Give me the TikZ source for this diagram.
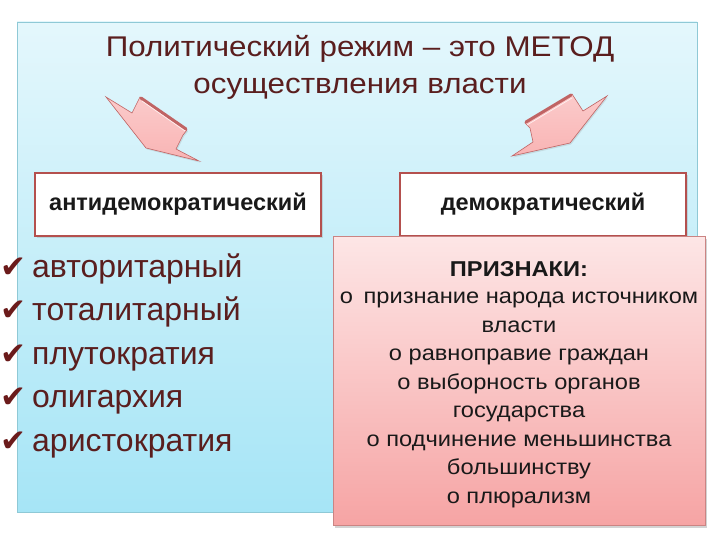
\documentclass[tikz,border=0pt]{standalone}
\usepackage{fontspec}
\setmainfont{Liberation Sans}
\newfontfamily\widesans[FakeStretch=1.1]{Liberation Sans}
\newfontfamily\checkfont{DejaVu Sans}
\usetikzlibrary{shadows}
\definecolor{bgtop}{HTML}{E4F7FC}
\definecolor{bgbot}{HTML}{A6E5F6}
\definecolor{bgline}{HTML}{8FC9D6}
\definecolor{maroon}{HTML}{5A1E1E}
\definecolor{boxline}{HTML}{B4504E}
\definecolor{pinktop}{HTML}{FDE6E6}
\definecolor{pinkbot}{HTML}{F6A4A4}
\definecolor{arrowfill}{HTML}{F9B4B4}
\definecolor{arrowline}{HTML}{C06464}

\tikzset{
  titleline/.style={font=\widesans\fontsize{28.5}{34}\selectfont, text=maroon, anchor=base, inner sep=0pt},
  kindbox/.style={draw=boxline, line width=1.6pt, fill=white, minimum width=286pt, minimum height=63pt,
    font=\fontsize{23.5}{27}\selectfont\bfseries, text=black!90, drop shadow={opacity=0.25, shadow xshift=2pt, shadow yshift=-2pt}},
  item/.style={font=\fontsize{32}{36}\selectfont, text=maroon, anchor=base west, inner sep=0pt},
  tick/.style={font=\checkfont\fontsize{31}{34}\selectfont, text=maroon!90!red, anchor=base west, inner sep=0pt},
  signbox/.style={draw=boxline!70, line width=0.8pt, top color=pinktop, bottom color=pinkbot,
    minimum width=372pt, minimum height=289pt, drop shadow={opacity=0.35, shadow xshift=2pt, shadow yshift=-3pt}},
  signline/.style={font=\widesans\fontsize{21.5}{25}\selectfont, text=black!90, anchor=base, inner sep=0pt},
  arrowshape/.style={draw=arrowline, line width=0.6pt, top color=arrowfill!70!white, bottom color=arrowfill,
    drop shadow={opacity=0.2, shadow xshift=1pt, shadow yshift=-1.5pt}},
  arrowback/.style={draw=arrowline, line width=3pt, line cap=round}
}

\begin{document}
\begin{tikzpicture}[x=1pt, y=-1pt]
  \useasboundingbox (0,0) rectangle (720,540);
  % background panel
  \shade[top color=bgtop, bottom color=bgbot, draw=bgline, line width=0.6pt] (17,22) rectangle (697,512);

  % title
  \node[titleline] (title1) at (360,57) {Политический режим – это МЕТОД};
  \node[titleline] (title2) at (360,94) {осуществления власти};

  % arrows
  \path[arrowshape] (199,161) -- (176,149) -- (183,135) -- (187,130) -- (140,97) -- (132,113) -- (106,97) -- (146,148) -- cycle;
  \draw[arrowback] (141,98) -- (186,129);
  \draw[white!80!arrowfill, line width=0.7pt] (142,101) -- (185,131);
  \path[arrowshape] (512,156) -- (533,142) -- (530,128) -- (525,123) -- (572,94) -- (583,111) -- (607,96) -- (570,143) -- cycle;
  \draw[arrowback] (526,122) -- (571,95);
  \draw[white!80!arrowfill, line width=0.7pt] (527,125) -- (572,98);

  % the two kinds
  \node[kindbox] (anti) at (178,204.5) {антидемократический};
  \node[kindbox] (demo) at (543,204.5) {демократический};

  % list of antidemocratic regimes
  \foreach \word [count=\i] in {авторитарный, тоталитарный, плутократия, олигархия, аристократия} {
    \node[tick] (tick\i) at (0,277+43.5*\i-43.5) {✔};
    \node[item] (item\i) at (32,277+43.5*\i-43.5) {\word};
  }

  % signs of democracy
  \node[signbox] (signs) at (519,380.5) {};
  \node[signline, font=\widesans\fontsize{21.5}{25}\selectfont\bfseries] (head) at (519,276) {ПРИЗНАКИ:};
  \foreach \txt [count=\i] in {o\enspace признание народа источником, власти, o равноправие граждан,
      o выборность органов, государства, o подчинение меньшинства, большинству, o плюрализм} {
    \node[signline] (sign\i) at (519,303.5+28.5*\i-28.5) {\txt};
  }
\end{tikzpicture}
\end{document}
